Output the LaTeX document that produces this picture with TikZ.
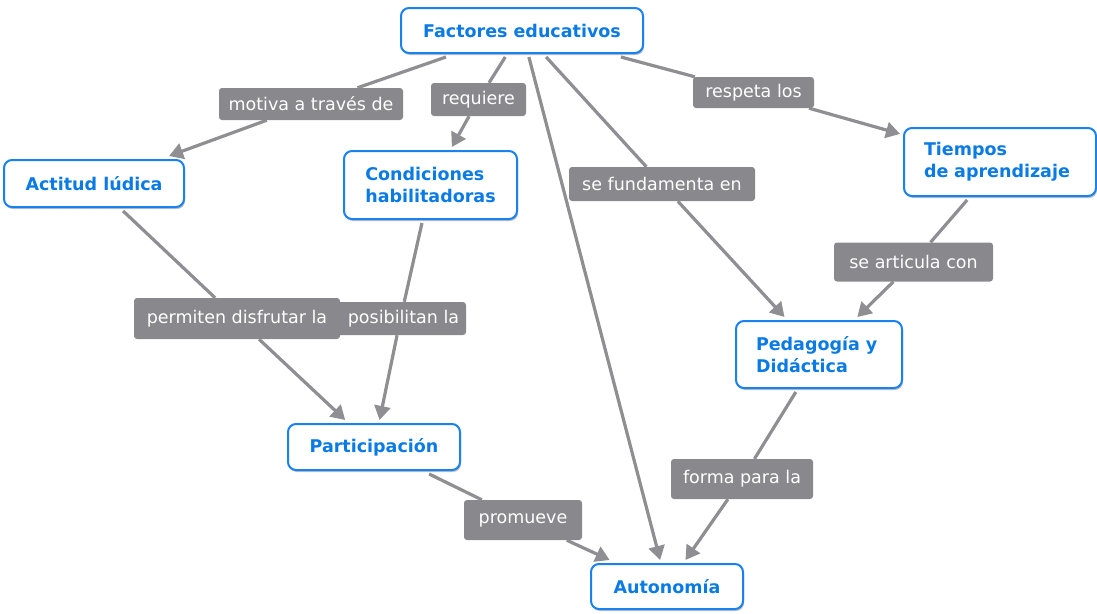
\documentclass[tikz,border=0pt]{standalone}
\usepackage{fontspec}
\setmainfont{DejaVu Sans}
\usetikzlibrary{arrows.meta,backgrounds,shadows}
\definecolor{boxblue}{RGB}{25,130,240}
\definecolor{txtblue}{RGB}{10,122,228}
\definecolor{linegray}{RGB}{142,142,147}
\definecolor{labgray}{RGB}{136,136,141}
\tikzset{
  concept/.style={draw=boxblue, line width=2pt, fill=white, rounded corners=8pt,
    text=txtblue, font=\fontsize{17.5}{22}\selectfont\bfseries, outer sep=4pt,
    drop shadow={shadow xshift=1pt, shadow yshift=-2pt, opacity=0.25, fill=black}},
  linkl/.style={fill=labgray, rounded corners=3pt, text=white,
    font=\fontsize{17.5}{21}\selectfont, inner sep=0pt},
  conn/.style={draw=linegray, line width=3.2pt},
  arr/.style={conn, -{Triangle[length=14pt,width=16pt]}}
}
\begin{document}
\begin{tikzpicture}[x=1pt,y=-1pt]
\useasboundingbox (0,0) rectangle (1097,613);
% concepts
\node[concept, minimum width=242pt, minimum height=45pt] (F) at (522,30.5) {Factores educativos};
\node[concept, minimum width=180pt, minimum height=47pt] (A) at (94,183.5) {Actitud lúdica};
\node[concept, minimum width=173pt, minimum height=68pt, align=left] (C) at (430.5,185) {Condiciones\\habilitadoras};
\node[concept, minimum width=192pt, minimum height=68pt, align=left, text width=152pt] (T) at (1000,162) {Tiempos\\de aprendizaje};
\node[concept, minimum width=166pt, minimum height=67pt, align=left, text width=126pt] (P) at (819,354.5) {Pedagogía y\\Didáctica};
\node[concept, minimum width=172pt, minimum height=46pt] (Pa) at (374,447) {Participación};
\node[concept, minimum width=152pt, minimum height=45pt] (Au) at (667,586.5) {Autonomía};
% link labels
\node[linkl, minimum width=184pt, minimum height=32pt] (l1) at (311,104) {motiva a través de};
\node[linkl, minimum width=95pt, minimum height=33pt] (l2) at (478.5,99.5) {requiere};
\node[linkl, minimum width=121pt, minimum height=31pt] (l3) at (753.5,92.5) {respeta los};
\node[linkl, minimum width=186pt, minimum height=34pt] (l4) at (662,184) {se fundamenta en};
\node[linkl, minimum width=159pt, minimum height=39pt] (l5) at (913.5,262) {se articula con};
\node[linkl, minimum width=131pt, minimum height=33pt] (l7) at (400.5,318.5) {\hspace*{6pt}posibilitan la};
\node[linkl, minimum width=206pt, minimum height=41pt] (l6) at (237,318.5) {permiten disfrutar la};
\node[linkl, minimum width=142pt, minimum height=40pt] (l8) at (742,479) {forma para la};
\node[linkl, minimum width=118pt, minimum height=40pt] (l9) at (523,520) {promueve};
% connectors
\begin{scope}[on background layer]
\draw[conn] (F) -- (l1); \draw[arr] (l1) -- (A);
\draw[conn] (F) -- (l2); \draw[arr] (l2) -- (C);
\draw[arr] (F) -- (Au);
\draw[conn] (F) -- (l4); \draw[arr] (l4) -- (P);
\draw[conn] (F) -- (l3); \draw[arr] (l3) -- (T);
\draw[conn] (T) -- (l5); \draw[arr] (l5) -- (P);
\draw[conn] (A) -- (l6); \draw[arr] (l6) -- (Pa);
\draw[conn] (C) -- (l7); \draw[arr] (l7) -- (Pa);
\draw[conn] (P) -- (l8); \draw[arr] (l8) -- (Au);
\draw[conn] (Pa) -- (l9); \draw[arr] (l9) -- (Au);
\end{scope}
\end{tikzpicture}
\end{document}
